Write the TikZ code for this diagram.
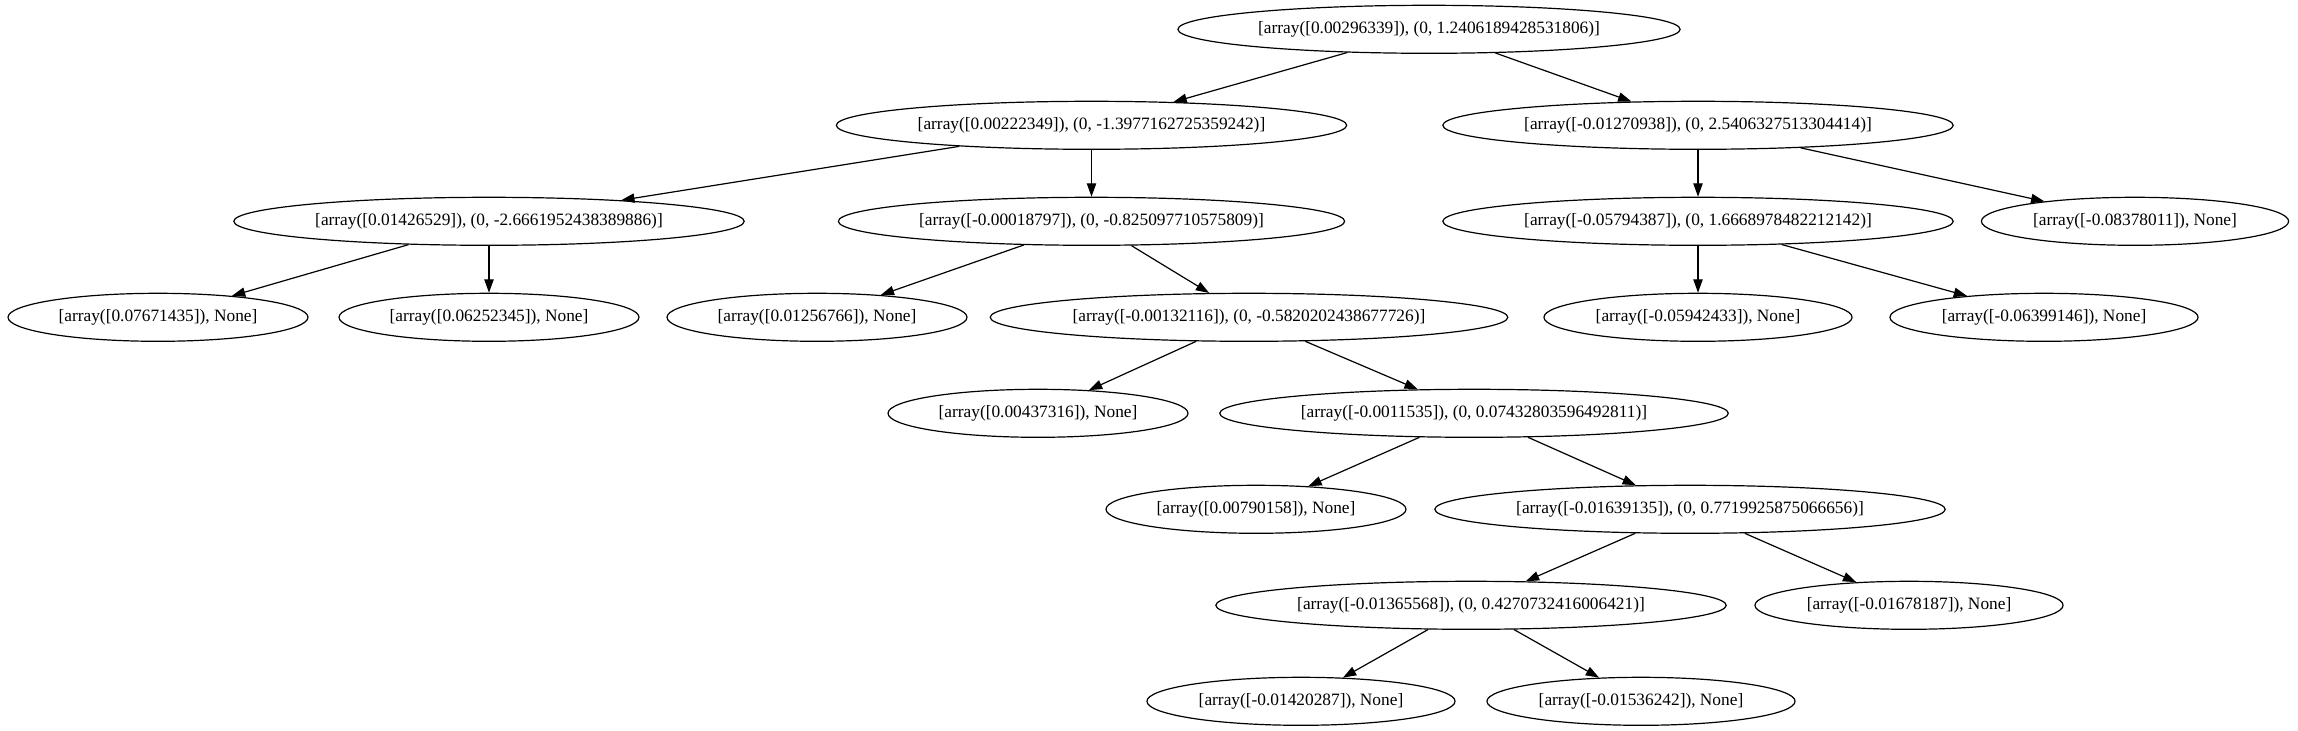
\documentclass[tikz,border=0pt]{standalone}
\usepackage{fontspec}
\setmainfont{Liberation Serif}
\usetikzlibrary{arrows.meta,shapes.geometric}
\begin{document}
\begin{tikzpicture}[x=0.75pt,y=-0.75pt,
  tn/.style={draw,ellipse,minimum height=36pt,inner xsep=5pt,inner ysep=0pt,font=\fontsize{13}{15}\selectfont,line width=0.9pt},
  ed/.style={-{Triangle[length=10pt,width=7pt]},line width=0.9pt}]
\useasboundingbox (0,0) rectangle (2298,731);
\node[tn] (r) at (1429,29.3) {[array([0.00296339]), (0, 1.2406189428531806)]};
\node[tn] (n2L) at (1091.5,125.3) {[array([0.00222349]), (0, -1.3977162725359242)]};
\node[tn] (n2R) at (1698,125.3) {[array([-0.01270938]), (0, 2.5406327513304414)]};
\node[tn] (n3a) at (489,221.3) {[array([0.01426529]), (0, -2.6661952438389886)]};
\node[tn] (n3b) at (1091.5,221.3) {[array([-0.00018797]), (0, -0.825097710575809)]};
\node[tn] (n3c) at (1698,221.3) {[array([-0.05794387]), (0, 1.6668978482212142)]};
\node[tn] (n3d) at (2135,221.3) {[array([-0.08378011]), None]};
\node[tn] (n4a) at (158,317.3) {[array([0.07671435]), None]};
\node[tn] (n4b) at (489,317.3) {[array([0.06252345]), None]};
\node[tn] (n4c) at (817,317.3) {[array([0.01256766]), None]};
\node[tn] (n4d) at (1249,317.3) {[array([-0.00132116]), (0, -0.5820202438677726)]};
\node[tn] (n4e) at (1698,317.3) {[array([-0.05942433]), None]};
\node[tn] (n4f) at (2044,317.3) {[array([-0.06399146]), None]};
\node[tn] (n5a) at (1038,413.3) {[array([0.00437316]), None]};
\node[tn] (n5b) at (1474,413.3) {[array([-0.0011535]), (0, 0.07432803596492811)]};
\node[tn] (n6a) at (1256,509.3) {[array([0.00790158]), None]};
\node[tn] (n6b) at (1690,509.3) {[array([-0.01639135]), (0, 0.7719925875066656)]};
\node[tn] (n7a) at (1471,605.3) {[array([-0.01365568]), (0, 0.4270732416006421)]};
\node[tn] (n7b) at (1909,605.3) {[array([-0.01678187]), None]};
\node[tn] (n8a) at (1301,701.3) {[array([-0.01420287]), None]};
\node[tn] (n8b) at (1641,701.3) {[array([-0.01536242]), None]};
\draw[ed] (r) -- (n2L);
\draw[ed] (r) -- (n2R);
\draw[ed] (n2L) -- (n3a);
\draw[ed] (n2L) -- (n3b);
\draw[ed] (n2R) -- (n3c);
\draw[ed] (n2R) -- (n3d);
\draw[ed] (n3a) -- (n4a);
\draw[ed] (n3a) -- (n4b);
\draw[ed] (n3b) -- (n4c);
\draw[ed] (n3b) -- (n4d);
\draw[ed] (n3c) -- (n4e);
\draw[ed] (n3c) -- (n4f);
\draw[ed] (n4d) -- (n5a);
\draw[ed] (n4d) -- (n5b);
\draw[ed] (n5b) -- (n6a);
\draw[ed] (n5b) -- (n6b);
\draw[ed] (n6b) -- (n7a);
\draw[ed] (n6b) -- (n7b);
\draw[ed] (n7a) -- (n8a);
\draw[ed] (n7a) -- (n8b);
\end{tikzpicture}
\end{document}
